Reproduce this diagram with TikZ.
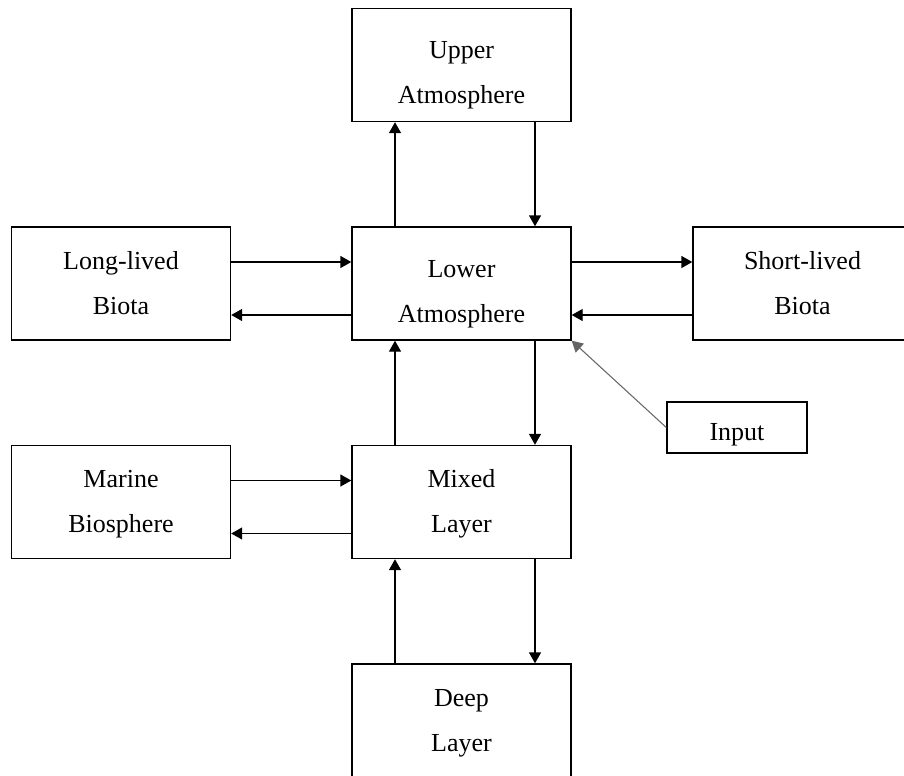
\documentclass[tikz,border=0pt]{standalone}
\usepackage{fontspec}
\setmainfont{Liberation Serif}
\usetikzlibrary{arrows.meta}
\tikzset{%
  >={Triangle[width=2.4mm,length=2.2mm]},
  % Specifications for style of nodes:
     box/.style = {rectangle, draw=black, line width=0.8pt,
                   minimum width=4.38cm, minimum height=2.26cm,
                   text centered, align=center,
                   text height=1.22cm, text depth=0pt,
                   font=\fontsize{14.8}{25.6}\selectfont},
    reservoir/.style = {box},
    atmosphere/.style = {box, text height=1.54cm},
    inputBox/.style = {box, minimum width=2.8cm, minimum height=1.02cm,
                       text height=0.5cm},
    flow/.style = {->, line width=0.8pt},
}

\begin{document}
\begin{tikzpicture}[node distance=4.37cm]
  \useasboundingbox (0,0) rectangle (18.08,-15.5);
  % Specification of nodes (position, etc.)
  \node (upper)      [atmosphere] at (9.23,-1.3) {Upper\\Atmosphere};
  \node (lower)      [atmosphere, below of=upper] {Lower\\Atmosphere};
  \node (longBiota)  [reservoir, left of=lower, xshift=-2.44cm] {Long-lived\\Biota};
  \node (shortBiota) [reservoir, right of=lower, xshift=2.45cm] {Short-lived\\Biota};
  \node (mixed)      [reservoir, below of=lower] {Mixed\\Layer};
  \node (marine)     [reservoir, left of=mixed, xshift=-2.44cm] {Marine\\Biosphere};
  \node (deep)       [reservoir, below of=mixed] {Deep\\Layer};
  \node (input)      [inputBox, right of=lower, xshift=1.14cm, yshift=-2.88cm] {Input};

  % Specification of lines between nodes specified above
  \draw[flow] ([xshift=-1.33cm]lower.north) -- ([xshift=-1.33cm]upper.south);
  \draw[flow] ([xshift=1.47cm]upper.south) -- ([xshift=1.47cm]lower.north);

  \draw[flow] ([yshift=0.43cm]longBiota.east) -- ([yshift=0.43cm]lower.west);
  \draw[flow] ([yshift=-0.63cm]lower.west) -- ([yshift=-0.63cm]longBiota.east);
  \draw[flow] ([yshift=0.43cm]lower.east) -- ([yshift=0.43cm]shortBiota.west);
  \draw[flow] ([yshift=-0.63cm]shortBiota.west) -- ([yshift=-0.63cm]lower.east);

  \draw[flow] ([xshift=1.47cm]lower.south) -- ([xshift=1.47cm]mixed.north);
  \draw[flow] ([xshift=-1.33cm]mixed.north) -- ([xshift=-1.33cm]lower.south);
  \draw[flow, draw=black!60, line width=0.6pt] (input.west) -- (lower.south east);

  \draw[flow] ([yshift=0.43cm]marine.east) -- ([yshift=0.43cm]mixed.west);
  \draw[flow] ([yshift=-0.63cm]mixed.west) -- ([yshift=-0.63cm]marine.east);

  \draw[flow] ([xshift=-1.33cm]deep.north) -- ([xshift=-1.33cm]mixed.south);
  \draw[flow] ([xshift=1.47cm]mixed.south) -- ([xshift=1.47cm]deep.north);
\end{tikzpicture}
\end{document}
